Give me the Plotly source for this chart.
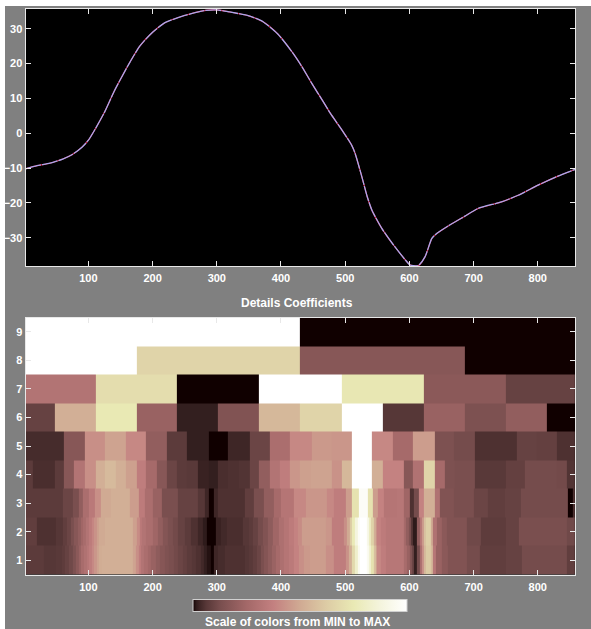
import numpy as np
import plotly.graph_objects as go

W, H = 591, 629

# upper panel: signal
signal_x = [2, 20, 40, 60, 75, 90, 100, 110, 125, 140, 150, 165, 180, 200, 220, 250, 280, 300, 320, 350,
            372, 395, 417, 433, 448, 466, 477, 495, 510, 515.5, 526, 534, 541.5, 557, 575, 601, 606, 614,
            624.5, 635, 642.5, 660.6, 686.5, 707, 743.5, 769.5, 800.5, 831.6, 858]
signal_y = [-10.2, -9.3, -8.6, -7.4, -6.1, -4, -2, 1, 6, 12, 15.5, 20.5, 25, 29, 31.8, 33.8, 35.2, 35.4, 34.8, 33.7,
            32, 28.5, 23.4, 19, 14.3, 9, 5.7, 0.9, -3.4, -5.8, -12.5, -18, -22, -27.3, -32, -37.8, -38, -38,
            -35.4, -30.2, -28.8, -26.6, -23.8, -21.6, -19.7, -17.8, -14.9, -12.3, -10.4]

# lower panel: each row is right edges of constant cells and their colour-scale levels
row9_edges = [430, 858]
row9_vals = [1, 0]
row8_edges = [175, 430, 686, 858]
row8_vals = [1, .66, .17, 0]
row7_edges = [111, 237, 365, 495, 622, 750, 858]
row7_vals = [.31, .70, 0, 1, .74, .18, .09]
row6_edges = [47, 111, 175, 237, 301, 365, 430, 495, 558, 622, 686, 750, 814, 858]
row6_vals = [.09, .52, .75, .22, .02, .15, .55, .66, 1, .06, .22, .14, .2, 0]
row5_edges = [62, 94, 126, 158, 190, 222, 254, 287, 318, 351, 382, 414, 448, 480, 511, 542, 575, 606, 639, 670,
              702, 767, 798, 830, 858]
row5_vals = [.04, .17, .42, .48, .40, .20, .07, .02, 0, .03, .10, .28, .40, .45, .44, 1, .40, .26, .46, .14,
             .12, .05, .09, .085, .05]
row4_edges = [14, 47, 62, 78, 94, 111, 126, 142, 158, 175, 190, 206, 222, 237, 254, 270, 287, 301, 318, 334, 351,
              366, 382, 398, 414, 430, 447, 480, 495, 511, 542, 558, 591, 606, 622, 639, 655, 671, 702, 750, 780,
              830, 845, 858]
row4_vals = [.07, .045, .07, .17, .31, .42, .52, .56, .52, .47, .36, .26, .17, .10, .07, .065, .025, .02, .045, .05,
             .055, .10, .20, .31, .36, .44, .47, .48, .43, .55, 1, .52, .38, .17, .30, .66, .26, .14, .13, .065, .085,
             .12, .115, .055]
row3_edges = [60, 75, 85, 92, 100, 110, 120, 135, 165, 178, 188, 200, 215, 240, 270, 282, 288, 296, 301, 343, 358,
              373, 389, 400, 420, 438, 472, 483, 501, 510, 521, 535, 543, 551, 561, 580, 591, 600, 607, 614, 622,
              639, 648, 670, 700, 722, 748, 774, 816, 847, 855, 858]
row3_vals = [.07, .10, .13, .20, .28, .34, .42, .50, .52, .46, .35, .28, .22, .13, .09, .06, .03, 0, .03, .05, .08,
             .13, .20, .26, .32, .40, .44, .40, .36, .46, .72, .97, .72, .46, .38, .32, .33, .24, .05, .12, .38,
             .52, .30, .15, .13, .10, .08, .09, .12, .12, 0, .05]
row2_edges = [20, 50, 60, 66, 72, 78, 84, 88, 92, 96, 100, 105, 109, 113, 117, 125, 170, 175, 180, 184, 190, 200,
              208, 216, 224, 232, 240, 250, 260, 270, 278, 285, 298, 306, 315, 341, 350, 356, 364, 372, 380, 388,
              396, 405, 412, 420, 427, 433, 470, 480, 498, 503, 507, 511, 515, 519, 523, 534, 537, 540, 544, 547,
              550, 556, 563, 591, 595, 599, 603, 606, 612, 616, 619, 622, 626, 634, 637, 643, 650, 659, 690, 711,
              750, 770, 846, 858]
row2_vals = [.08, .05, .06, .08, .10, .13, .17, .20, .24, .27, .31, .35, .39, .43, .47, .50, .52, .47, .41, .34, .31, .28,
             .24, .20, .16, .135, .115, .09, .07, .05, .03, .015, 0, .025, .035, .045, .06, .07, .09, .12, .15, .19,
             .24, .29, .32, .35, .38, .41, .46, .44, .36, .42, .50, .62, .76, .88, .97, 1, .92, .80, .65, .52,
             .44, .38, .35, .33, .26, .20, .14, .06, .015, .20, .33, .45, .58, .64, .50, .30, .22, .18, .15, .11,
             .075, .09, .13, .11]
row1_edges = [30, 50, 58, 64, 70, 75, 80, 85, 89, 93, 97, 101, 105, 109, 113, 117, 121, 170, 174, 178, 182, 186, 192,
              198, 205, 212, 219, 226, 233, 240, 247, 254, 261, 268, 275, 280, 285, 291, 296, 301, 312, 343, 350,
              356, 362, 368, 374, 380, 386, 392, 398, 405, 412, 420, 428, 435, 445, 470, 483, 501, 506, 511, 515,
              519, 523, 533, 537, 540, 544, 547, 550, 556, 563, 591, 596, 600, 604, 607, 612, 616, 619, 622, 626,
              634, 637, 642, 650, 660, 690, 710, 750, 775, 845, 858]
row1_vals = [.07, .06, .065, .075, .09, .11, .14, .18, .22, .27, .30, .33, .36, .40, .44, .48, .51, .52, .48, .42, .36, .31, .28,
             .25, .22, .19, .165, .145, .13, .115, .10, .085, .07, .06, .05, .035, .02, .01, 0, .03, .04, .05, .058,
             .065, .08, .10, .13, .16, .19, .225, .26, .29, .32, .345, .38, .42, .45, .46, .42, .36, .43, .52, .68,
             .82, .94, 1, .95, .85, .72, .58, .48, .40, .36, .33, .27, .22, .16, .10, .02, .12, .28, .42, .55,
             .62, .55, .33, .22, .18, .15, .12, .08, .09, .12, .08]

rows = [(row1_edges, row1_vals), (row2_edges, row2_vals), (row3_edges, row3_vals),
        (row4_edges, row4_vals), (row5_edges, row5_vals), (row6_edges, row6_vals),
        (row7_edges, row7_vals), (row8_edges, row8_vals), (row9_edges, row9_vals)]
scale_rows = list(range(1, 10))

x_start = 1
all_edges = sorted({x_start} | {e for edges, _ in rows for e in edges})
x_edges = [float(e) for e in all_edges]
centres = (np.array(x_edges[:-1]) + np.array(x_edges[1:])) / 2
z = []
for edges, vals in rows:
    idx = np.searchsorted(np.array(edges), centres, side="left")
    z.append([vals[i] for i in idx])
y_edges = [r - 0.5 for r in scale_rows] + [9.5]

pink = [[0, "rgb(16,0,0)"], [.015, "rgb(46,27,27)"], [.03, "rgb(62,38,38)"], [.0625, "rgb(88,56,56)"],
        [.125, "rgb(120,78,78)"], [.25, "rgb(163,104,104)"], [.375, "rgb(195,128,128)"],
        [.5, "rgb(208,170,147)"], [.625, "rgb(221,204,165)"], [.75, "rgb(233,233,180)"],
        [.875, "rgb(244,244,221)"], [1, "rgb(255,255,255)"]]

tick_font = dict(family="Liberation Sans, Arial, sans-serif", size=11, color="#ffffff", weight="bold")
title_font = dict(family="Liberation Sans, Arial, sans-serif", size=12, color="#ffffff", weight="bold")
fig = go.Figure()
fig.add_trace(go.Scatter(x=signal_x, y=signal_y, mode="lines",
                         line=dict(color="#e02040", width=1.2, shape="spline", smoothing=0.6),
                         xaxis="x", yaxis="y", showlegend=False, hoverinfo="skip"))
fig.add_trace(go.Scatter(x=signal_x, y=signal_y, mode="lines",
                         line=dict(color="#a8a8ec", width=1.3, shape="spline", smoothing=0.6, dash="16px,1px"),
                         xaxis="x", yaxis="y", showlegend=False, hoverinfo="skip"))
fig.add_trace(go.Heatmap(x=x_edges, y=y_edges, z=z, zmin=0, zmax=1, colorscale=pink, xaxis="x2", yaxis="y2",
                         colorbar=dict(orientation="h", x=300.5 / W, xanchor="center", xref="paper",
                                       y=1 - 606 / H, yanchor="middle", yref="paper",
                                       len=214 / W, lenmode="fraction", thickness=12, thicknessmode="pixels",
                                       ticks="", tickmode="array", tickvals=[], tickfont=tick_font,
                                       outlinecolor="#d0d0d0", outlinewidth=1, xpad=0, ypad=0)))

def ax(**kw):
    return dict(showgrid=False, zeroline=False, showline=True, linecolor="#e8e8e8", linewidth=1, mirror="ticks",
                ticks="inside", ticklen=5, tickcolor="#e8e8e8", tickwidth=1, tickfont=tick_font, **kw)

xticks = [100, 200, 300, 400, 500, 600, 700, 800]
fig.update_layout(
    width=W, height=H, margin=dict(l=0, r=0, t=0, b=0), autosize=False,
    paper_bgcolor="#808080", plot_bgcolor="#000000",
    xaxis=ax(domain=[25.5 / W, 575 / W], range=[2, 858], tickvals=xticks, anchor="y", ticklabelstandoff=2),
    yaxis=ax(domain=[1 - 266 / H, 1 - 8.5 / H], range=[-38.1, 35.8], tickvals=[-30, -20, -10, 0, 10, 20, 30], anchor="x"),
    xaxis2=ax(domain=[25.5 / W, 575 / W], range=[2, 858], tickvals=xticks, anchor="y2", ticklabelstandoff=2),
    yaxis2=ax(domain=[1 - 574.5 / H, 1 - 317.5 / H], range=[0.5, 9.5], tickvals=scale_rows, anchor="x2"),
    shapes=[dict(type="rect", xref="paper", yref="paper", x0=0, x1=5 / W, y0=0, y1=1,
                 fillcolor="#ffffff", line_width=0, layer="below"),
            dict(type="rect", xref="paper", yref="paper", x0=0, x1=1, y0=1 - 6 / H, y1=1,
                 fillcolor="#ffffff", line_width=0, layer="below")],
    annotations=[dict(text="Details Coefficients", xref="paper", yref="paper", x=297 / W, y=1 - 303 / H,
                      showarrow=False, font=title_font, xanchor="center", yanchor="middle"),
                 dict(text="Scale of colors from MIN to MAX", xref="paper", yref="paper", x=297 / W, y=1 - 621.5 / H,
                      showarrow=False, font=title_font, xanchor="center", yanchor="middle")],
)
fig.write_html("out.html", config=dict(displayModeBar=False),
               post_script="document.body.style.margin='0';document.documentElement.style.overflow='hidden';")
